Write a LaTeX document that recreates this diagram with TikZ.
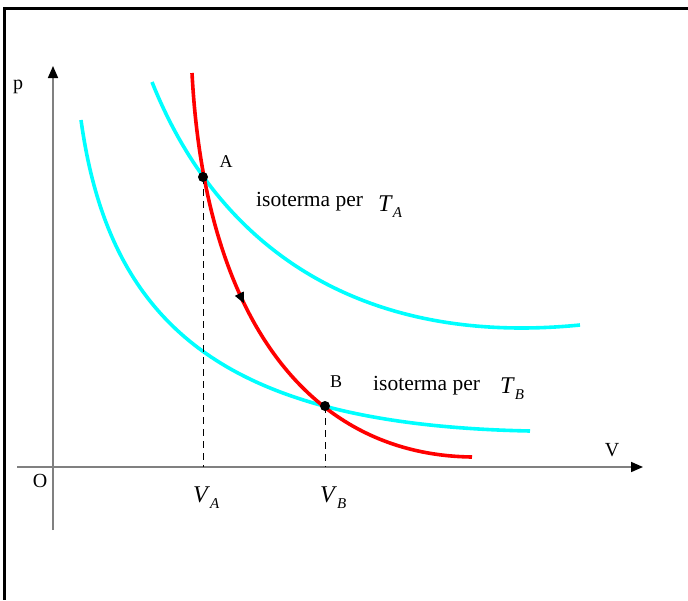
\documentclass[tikz,border=0pt]{standalone}
\usepackage{fontspec}
\setmainfont{Liberation Serif}
\usetikzlibrary{arrows.meta, decorations.markings}
\definecolor{isocyan}{RGB}{0,255,255}
\definecolor{adred}{RGB}{255,0,0}

% italic variable with a subscript
\newcommand{\ivar}[2]{\textit{#1}\raisebox{-0.25em}{\fontsize{15}{15}\selectfont\textit{#2}}}

\begin{document}
\begin{tikzpicture}[
  x=1pt, y=-1pt,
  axis/.style={line width=1.6pt, draw=gray,
    -{Triangle[length=12pt, width=10pt, color=black]}},
  iso/.style={isocyan, line width=3.6pt},
  adiab/.style={adred, line width=3.6pt, postaction=decorate,
    decoration={markings, mark=at position 0.45 with
      {\arrow{Triangle[length=11pt, width=9pt, color=black]}}}},
  guide/.style={black, line width=0.8pt, dash pattern=on 7pt off 5pt},
  dot/.style={circle, fill=black, inner sep=0pt, minimum size=10pt},
  lbl/.style={font=\fontsize{20}{22}\selectfont, inner sep=0pt},
  pt/.style={font=\fontsize{18}{20}\selectfont, inner sep=0pt},
  txt/.style={font=\fontsize{21.5}{24}\selectfont, inner sep=0pt, anchor=base west},
  var/.style={font=\fontsize{24}{26}\selectfont, inner sep=0pt, anchor=base west}
]
  \useasboundingbox (0,0) rectangle (688,600);
  % frame
  \draw[line width=3pt] (688,8) -- (4,8) -- (4,600);

  % axes
  \coordinate (xs) at (17,467);
  \coordinate (xe) at (643,467);
  \coordinate (ys) at (53,530);
  \coordinate (ye) at (53,66);
  \draw[axis] (xs) -- (xe);
  \draw[axis] (ys) -- (ye);
  \node[lbl] (p) at (18,87) {p};
  \node[lbl] (O) at (40,481) {O};
  \node[lbl] (V) at (612,450) {V};

  % isotherms
  \draw[iso] (152,82) .. controls (225,265) and (380,345) .. (580,325);
  \draw[iso] (81,120) .. controls (110,330) and (230,425) .. (530,431);

  % adiabatic from A to B
  \draw[adiab] (192,73) .. controls (205,320) and (310,455) .. (472,457);

  % points
  \node[dot] (A) at (203,177) {};
  \node[dot] (B) at (325,406) {};
  \node[pt] (lA) at (226,162) {A};
  \node[pt] (lB) at (336,382) {B};
  \coordinate (VA) at (203,467);
  \coordinate (VB) at (325,467);
  \draw[guide] (A.center) -- (VA);
  \draw[guide] (B.center) -- (VB);

  % labels
  \node[txt] (isoA) at (256,206) {isoterma per};
  \node[var] (TA) at (378,211) {\ivar{T}{A}};
  \node[txt] (isoB) at (373,390) {isoterma per};
  \node[var] (TB) at (500,393) {\ivar{T}{B}};
  \node[var] (lVA) at (193,502) {\ivar{V}{A}};
  \node[var] (lVB) at (320,502) {\ivar{V}{B}};
\end{tikzpicture}
\end{document}
